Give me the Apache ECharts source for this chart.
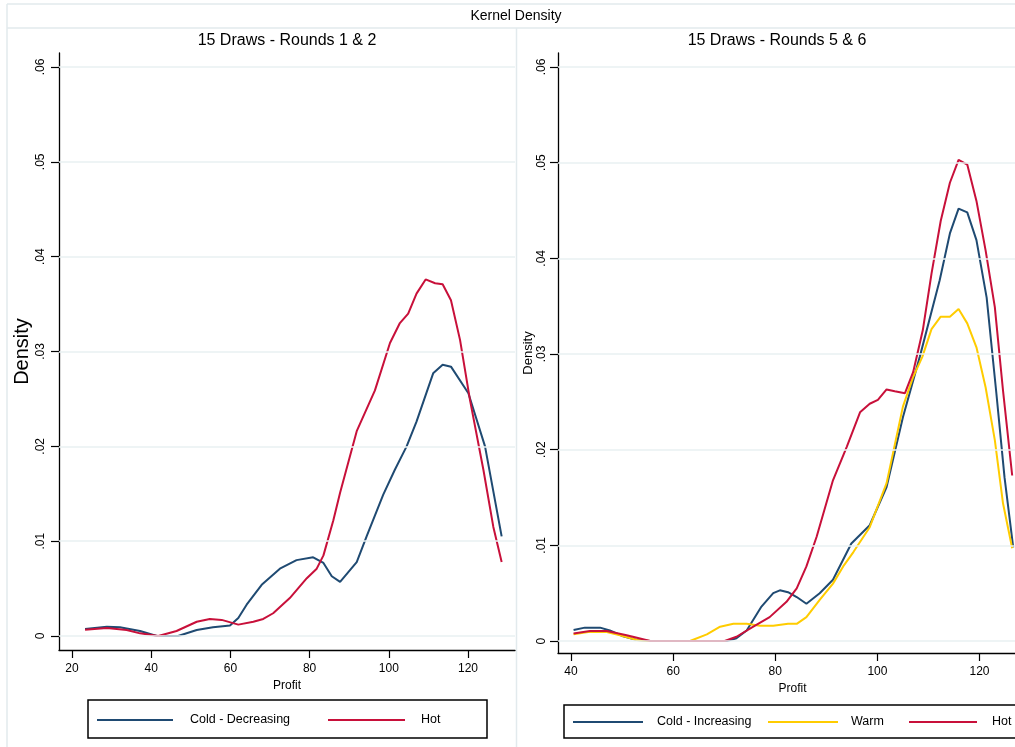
<!DOCTYPE html>
<html>
<head>
<meta charset="utf-8">
<title>Kernel Density</title>
<script src="https://cdn.jsdelivr.net/npm/echarts@6/dist/echarts.min.js"></script>
<style>
  html, body { margin: 0; padding: 0; background: #fff; }
  #chart { width: 1015px; height: 747px; }
</style>
</head>
<body>
<div id="chart"></div>
<script>
// ---- Panel 1: 15 draws, rounds 1 & 2 ----
const r12ColdProfit = [23.3, 28.8, 32.1, 37.2, 41.4, 46.8, 51.5, 55.6, 59.9, 62.0, 64.1, 67.9, 72.5, 76.7, 80.9, 83.5, 85.6, 87.7, 91.9, 94.4, 98.6, 101.5, 104.5, 107.0, 111.2, 113.6, 115.7, 120.1, 124.3, 128.5];
const r12ColdDensity = [0.00074, 0.00098, 0.00092, 0.00053, 0.0, 0.0, 0.00063, 0.00092, 0.0011, 0.0019, 0.0033, 0.0054, 0.0071, 0.0080, 0.0083, 0.0077, 0.0063, 0.0057, 0.0078, 0.0105, 0.0149, 0.0175, 0.0200, 0.0226, 0.0277, 0.0286, 0.0284, 0.0256, 0.0200, 0.0105];

const r12HotProfit = [23.3, 28.8, 33.8, 37.2, 41.8, 46.4, 51.5, 54.8, 57.8, 62.0, 65.8, 68.3, 70.8, 75.0, 79.3, 81.8, 83.5, 86.0, 87.7, 91.9, 96.5, 100.3, 102.8, 104.9, 107.0, 109.3, 111.7, 113.6, 115.7, 118.0, 120.5, 123.9, 126.4, 128.5];
const r12HotDensity = [0.00067, 0.00084, 0.00063, 0.00028, 0.0, 0.00053, 0.0015, 0.0018, 0.0017, 0.0012, 0.0015, 0.0018, 0.0024, 0.0040, 0.0061, 0.0071, 0.0085, 0.0122, 0.0151, 0.0216, 0.0259, 0.0309, 0.0330, 0.0340, 0.0361, 0.0376, 0.0372, 0.0371, 0.0354, 0.0312, 0.0249, 0.0175, 0.0115, 0.0078];

// ---- Panel 2: 15 draws, rounds 5 & 6 ----
const r56ColdProfit = [40.5, 42.7, 45.7, 47.6, 50.2, 52.9, 55.5, 70.5, 72.4, 74.4, 77.3, 79.6, 80.9, 82.5, 84.2, 86.1, 88.7, 91.3, 94.9, 98.5, 101.8, 105.0, 108.3, 112.2, 114.2, 115.9, 117.6, 119.4, 121.4, 123.3, 124.9, 126.6];
const r56ColdDensity = [0.00115, 0.0014, 0.0014, 0.0011, 0.0005, 0.0001, 0.0, 0.0, 0.0003, 0.0011, 0.0036, 0.0050, 0.0053, 0.0051, 0.0046, 0.0039, 0.0050, 0.0064, 0.0102, 0.0121, 0.0161, 0.0234, 0.0297, 0.0377, 0.0426, 0.0452, 0.0448, 0.0419, 0.0359, 0.0259, 0.0171, 0.0098];

const r56WarmProfit = [40.5, 43.7, 47.0, 49.6, 52.9, 55.5, 63.3, 66.6, 69.2, 71.8, 74.4, 77.0, 79.6, 82.5, 84.2, 86.1, 88.7, 91.3, 93.3, 95.3, 98.5, 101.8, 105.0, 107.0, 108.8, 110.6, 112.4, 114.2, 115.9, 117.6, 119.4, 121.2, 123.0, 124.6, 126.4];
const r56WarmDensity = [0.0007, 0.00097, 0.00094, 0.0006, 0.0001, 0.0, 0.0, 0.0007, 0.0015, 0.0018, 0.0018, 0.0016, 0.0016, 0.0018, 0.0018, 0.0025, 0.0043, 0.0060, 0.0078, 0.0093, 0.0119, 0.0165, 0.0245, 0.0276, 0.0297, 0.0326, 0.0339, 0.0339, 0.0347, 0.0332, 0.0307, 0.0265, 0.0210, 0.0144, 0.0097];

const r56HotProfit = [40.5, 43.7, 47.0, 50.9, 55.5, 70.1, 72.4, 75.7, 78.9, 82.2, 84.2, 86.1, 88.1, 91.3, 94.0, 96.6, 98.5, 100.1, 101.8, 103.4, 105.4, 107.0, 108.9, 110.6, 112.4, 114.2, 115.9, 117.6, 119.4, 121.2, 123.0, 124.6, 126.4];
const r56HotDensity = [0.0008, 0.00104, 0.00104, 0.0006, 0.0, 0.0, 0.00045, 0.0015, 0.0025, 0.0041, 0.0055, 0.0078, 0.0109, 0.0168, 0.0203, 0.0239, 0.0248, 0.0252, 0.0263, 0.0261, 0.0259, 0.0281, 0.0325, 0.0384, 0.0439, 0.0479, 0.0503, 0.0498, 0.0460, 0.0408, 0.0349, 0.0262, 0.0173];

// ---- Axis ticks, titles, series names ----
const leftProfitTicks = [20, 40, 60, 80, 100, 120];
const rightProfitTicks = [40, 60, 80, 100, 120];
const densityTicks = [0, 0.01, 0.02, 0.03, 0.04, 0.05, 0.06];
const mainTitle = 'Kernel Density';
const panelTitles = ['15 Draws - Rounds 1 & 2', '15 Draws - Rounds 5 & 6'];
const leftNames = ['Cold - Decreasing', 'Hot'];
const rightNames = ['Cold - Increasing', 'Warm', 'Hot'];

const COLORS = { cold: '#1f4a72', warm: '#ffcc00', hot: '#c8103a' };
const FONT = '"Liberation Sans", Arial, sans-serif';
const GRIDLINE = '#e8f0f2';
const FRAME = '#e2eaed';

function zip(xs, ys) { return xs.map((x, i) => [x, ys[i]]); }
function densityLabel(v) {
  if (Math.abs(v) < 1e-9) return '0';
  return v.toFixed(2).replace(/^0/, '');
}

function xAxisFor(gridIndex, min, max, ticks, nameGap, namePadLeft) {
  return {
    gridIndex, type: 'value', min, max,
    name: 'Profit', nameLocation: 'middle', nameGap,
    nameTextStyle: { fontSize: 12, color: '#000', fontFamily: FONT, padding: [0, 0, 0, namePadLeft] },
    axisLine: { show: true, onZero: false, lineStyle: { color: '#000', width: 1.3 } },
    axisTick: { show: true, length: 8, customValues: ticks, lineStyle: { color: '#000', width: 1.2 } },
    axisLabel: { customValues: ticks, margin: 13, fontSize: 12, color: '#000', fontFamily: FONT },
    splitLine: { show: false }
  };
}
function yAxisFor(gridIndex, min, max, nameSize, nameGap, labelMargin) {
  return {
    gridIndex, type: 'value', min, max,
    name: 'Density', nameLocation: 'middle', nameGap, nameRotate: 90,
    nameTextStyle: { fontSize: nameSize, color: '#000', fontFamily: FONT },
    axisLine: { show: true, onZero: false, lineStyle: { color: '#000', width: 1.3 } },
    axisTick: { show: true, length: 8, customValues: densityTicks, lineStyle: { color: '#000', width: 1.2 } },
    axisLabel: { customValues: densityTicks, rotate: 90, margin: labelMargin, fontSize: 12, color: '#000', fontFamily: FONT, formatter: densityLabel },
    splitLine: { show: false }
  };
}
function gridLines(xi, yi) {
  return {
    type: 'line', xAxisIndex: xi, yAxisIndex: yi, data: [], z: 1, silent: true,
    markLine: {
      silent: true, symbol: ['none', 'none'], label: { show: false },
      lineStyle: { color: GRIDLINE, width: 1.5, type: 'solid' },
      emphasis: { disabled: true },
      data: densityTicks.map(v => ({ yAxis: v }))
    }
  };
}
function curve(name, xs, ys, color, idx) {
  return {
    type: 'line', name, xAxisIndex: idx, yAxisIndex: idx, z: 3,
    data: zip(xs, ys), showSymbol: false, smooth: false, silent: true,
    lineStyle: { color, width: 2 }, itemStyle: { color }
  };
}

// legend drawn as framed boxes below each panel
function legendBox(x, y, w, h, items) {
  const els = [{
    type: 'rect', shape: { x, y, width: w, height: h },
    style: { fill: '#fff', stroke: '#000', lineWidth: 1.5 }
  }];
  items.forEach(it => {
    els.push({ type: 'line', shape: { x1: it.x1, y1: it.y, x2: it.x2, y2: it.y }, style: { stroke: it.color, lineWidth: 2 } });
    els.push({ type: 'text', x: it.tx, y: it.y, style: { text: it.name, font: '12.5px ' + FONT, fill: '#000', textAlign: 'left', textVerticalAlign: 'middle' } });
  });
  return els;
}

const graphics = [
  // outer frame lines
  { type: 'line', shape: { x1: 7, y1: 4, x2: 1015, y2: 4 }, style: { stroke: FRAME, lineWidth: 1.5 } },
  { type: 'line', shape: { x1: 7, y1: 28, x2: 1015, y2: 28 }, style: { stroke: FRAME, lineWidth: 1.5 } },
  { type: 'line', shape: { x1: 7, y1: 4, x2: 7, y2: 747 }, style: { stroke: FRAME, lineWidth: 1.5 } },
  { type: 'line', shape: { x1: 516.5, y1: 28, x2: 516.5, y2: 747 }, style: { stroke: FRAME, lineWidth: 1.5 } },
  // titles
  { type: 'text', x: 516, y: 16, style: { text: mainTitle, font: '14px ' + FONT, fill: '#000', textAlign: 'center', textVerticalAlign: 'middle' } },
  { type: 'text', x: 287, y: 41, style: { text: panelTitles[0], font: '16px ' + FONT, fill: '#000', textAlign: 'center', textVerticalAlign: 'middle' } },
  { type: 'text', x: 777, y: 41, style: { text: panelTitles[1], font: '16px ' + FONT, fill: '#000', textAlign: 'center', textVerticalAlign: 'middle' } }
].concat(
  legendBox(88, 700, 399, 38, [
    { x1: 97, x2: 173, tx: 190, y: 720, color: COLORS.cold, name: leftNames[0] },
    { x1: 328, x2: 405, tx: 421, y: 720, color: COLORS.hot, name: leftNames[1] }
  ]),
  legendBox(564, 705, 456, 33, [
    { x1: 573, x2: 643, tx: 657, y: 722, color: COLORS.cold, name: rightNames[0] },
    { x1: 768, x2: 838, tx: 851, y: 722, color: COLORS.warm, name: rightNames[1] },
    { x1: 909, x2: 977, tx: 992, y: 722, color: COLORS.hot, name: rightNames[2] }
  ])
);

const chart = echarts.init(document.getElementById('chart'), null, { renderer: 'canvas' });
chart.setOption({
  backgroundColor: '#fff',
  animation: false,
  textStyle: { fontFamily: FONT },
  grid: [
    { left: 59, top: 53, width: 456, height: 597 },
    { left: 558, top: 53, width: 457, height: 600 }
  ],
  xAxis: [
    xAxisFor(0, 16.72, 131.87, leftProfitTicks, 26, 0),
    xAxisFor(1, 37.45, 126.95, rightProfitTicks, 27, 12)
  ],
  yAxis: [
    yAxisFor(0, -0.001476, 0.061476, 20, 27, 12),
    yAxisFor(1, -0.00125, 0.06146, 13, 21, 10)
  ],
  series: [
    gridLines(0, 0),
    gridLines(1, 1),
    curve(leftNames[0], r12ColdProfit, r12ColdDensity, COLORS.cold, 0),
    curve(leftNames[1], r12HotProfit, r12HotDensity, COLORS.hot, 0),
    curve(rightNames[0], r56ColdProfit, r56ColdDensity, COLORS.cold, 1),
    curve(rightNames[1], r56WarmProfit, r56WarmDensity, COLORS.warm, 1),
    curve(rightNames[2], r56HotProfit, r56HotDensity, COLORS.hot, 1)
  ],
  graphic: graphics
});
</script>
</body>
</html>
